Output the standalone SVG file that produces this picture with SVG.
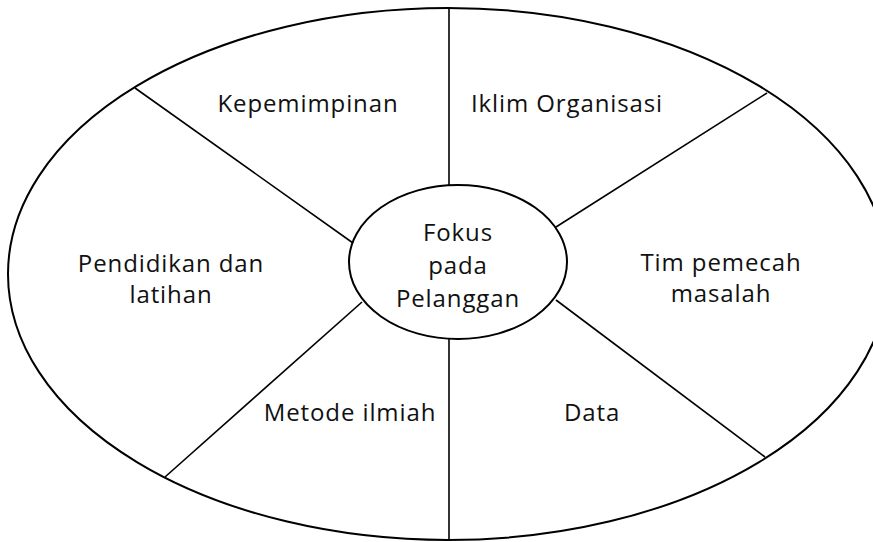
<svg xmlns="http://www.w3.org/2000/svg" width="873" height="542" viewBox="0 0 873 542">
<style>
.e{fill:none;stroke:#000;stroke-width:2}
.l{stroke:#000;stroke-width:1.6;fill:none}
.t{font-family:"Open Sans","DejaVu Sans",sans-serif;font-size:24px;fill:#111;text-anchor:middle;letter-spacing:0.9px}
</style>
<rect width="873" height="542" fill="#fff"/>
<g id="outer"><ellipse class="e" cx="448" cy="274" rx="440" ry="266"/></g>
<g id="connectors">
<line class="l" x1="449" y1="8" x2="449" y2="185"/>
<line class="l" x1="449" y1="339" x2="449" y2="540"/>
<line class="l" x1="135" y1="88" x2="353" y2="243"/>
<line class="l" x1="767" y1="93" x2="556" y2="227"/>
<line class="l" x1="165" y1="477" x2="362" y2="302"/>
<line class="l" x1="765" y1="457" x2="556" y2="300"/>
</g>
<g id="center"><ellipse class="e" cx="458" cy="262" rx="109" ry="77" fill="#fff"/>
<text class="t" x="458" y="241">Fokus</text>
<text class="t" x="458" y="274">pada</text>
<text class="t" x="458" y="307">Pelanggan</text></g>
<g id="kepemimpinan"><text class="t" x="308" y="112">Kepemimpinan</text></g>
<g id="iklim"><text class="t" x="567" y="112">Iklim Organisasi</text></g>
<g id="tim"><text class="t" x="721" y="271">Tim pemecah</text><text class="t" x="721" y="302">masalah</text></g>
<g id="pendidikan"><text class="t" x="171" y="272">Pendidikan dan</text><text class="t" x="171" y="303">latihan</text></g>
<g id="metode"><text class="t" x="350" y="421">Metode ilmiah</text></g>
<g id="data"><text class="t" x="592" y="421">Data</text></g>
</svg>
